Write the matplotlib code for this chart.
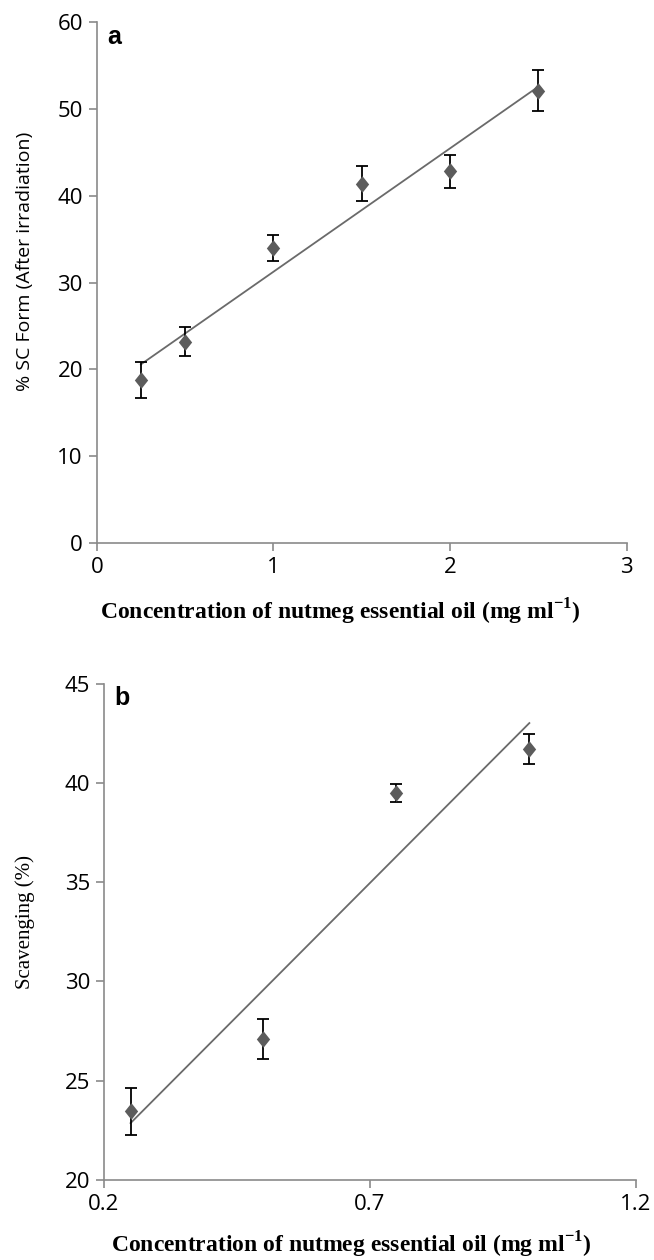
"""Two-panel scatter with error bars and linear trend lines (nutmeg essential oil)."""

import numpy as np
import matplotlib.pyplot as plt

# panel a: % SC form after irradiation
conc_a = [0.25, 0.5, 1.0, 1.5, 2.0, 2.5]
sc_form = [18.8, 23.2, 34.0, 41.4, 42.8, 52.1]
sc_err = [2.1, 1.7, 1.5, 2.0, 1.9, 2.4]

# panel b: scavenging (%)
conc_b = [0.25, 0.5, 0.75, 1.0]
scav = [23.45, 27.1, 39.5, 41.7]
scav_err = [1.2, 1.0, 0.45, 0.75]

plt.rcParams["mathtext.fontset"] = "custom"
plt.rcParams["mathtext.rm"] = "Liberation Serif"
plt.rcParams["mathtext.bf"] = "Liberation Serif:bold"

xlabel = r"Concentration of nutmeg essential oil (mg ml$^{\mathbf{-1}}$)"
axis_grey = "#8a8a8a"
marker_grey = "#5c5c5c"
line_grey = "#6a6a6a"
tick_font = ["Liberation Sans Narrow", "Open Sans"]
diamond = [(0, 1), (0.8, 0), (0, -1), (-0.8, 0), (0, 1)]


def style_axes(ax):
    for s in ("top", "right"):
        ax.spines[s].set_visible(False)
    for s in ("left", "bottom"):
        ax.spines[s].set_color(axis_grey)
        ax.spines[s].set_linewidth(1.2)
    ax.tick_params(direction="out", length=6, width=1.2, color=axis_grey,
                   labelsize=16, pad=4)
    for lab in ax.get_xticklabels() + ax.get_yticklabels():
        lab.set_family(tick_font)


def draw(ax, x, y, err):
    x = np.array(x)
    k, b = np.polyfit(x, np.array(y), 1)
    ax.plot([x[0], x[-1]], [k * x[0] + b, k * x[-1] + b], color=line_grey, lw=1.3, zorder=2)
    ax.errorbar(x, y, yerr=err, fmt="none", ecolor="black", elinewidth=1.3,
                capsize=4.5, capthick=1.3, zorder=3)
    ax.plot(x, y, linestyle="none", marker=diamond, color=marker_grey,
            markersize=12, markeredgewidth=0, zorder=4)


fig = plt.figure(figsize=(6.54, 12.6), dpi=100)

# --- panel a
ax1 = fig.add_axes([0.148, 0.569, 0.810, 0.4135])
draw(ax1, conc_a, sc_form, sc_err)
ax1.set_xlim(0, 3)
ax1.set_ylim(0, 60)
ax1.set_xticks([0, 1, 2, 3])
ax1.set_yticks(range(0, 61, 10))
style_axes(ax1)
ax1.set_ylabel("% SC Form (After irradiation)", family="Open Sans", fontsize=14)
ax1.yaxis.set_label_coords(-0.118, 0.54)
ax1.set_xlabel(xlabel, family="Liberation Serif", fontweight="bold", fontsize=17)
ax1.xaxis.set_label_coords(0.46, -0.102)
ax1.text(0.02, 0.995, "a", transform=ax1.transAxes, fontsize=18, fontweight="bold",
         family="Liberation Sans", va="top", ha="left")

# --- panel b
ax2 = fig.add_axes([0.159, 0.0635, 0.813, 0.394])
draw(ax2, conc_b, scav, scav_err)
ax2.set_xlim(0.2, 1.2)
ax2.set_ylim(20, 45)
ax2.set_xticks([0.2, 0.7, 1.2])
ax2.set_xticklabels(["0.2", "0.7", "1.2"])
ax2.set_yticks(range(20, 46, 5))
style_axes(ax2)
ax2.set_ylabel("Scavenging (%)", family="Liberation Serif", fontsize=15)
ax2.yaxis.set_label_coords(-0.13, 0.52)
ax2.set_xlabel(xlabel, family="Liberation Serif", fontweight="bold", fontsize=17)
ax2.xaxis.set_label_coords(0.465, -0.1)
ax2.text(0.02, 0.995, "b", transform=ax2.transAxes, fontsize=18, fontweight="bold",
         family="Liberation Sans", va="top", ha="left")

fig.savefig("out.png", dpi=100)
